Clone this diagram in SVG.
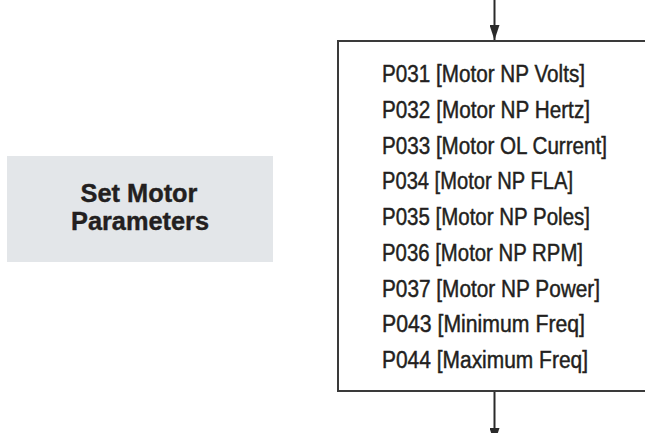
<svg xmlns="http://www.w3.org/2000/svg" width="645" height="433" viewBox="0 0 645 433">
  <style>
    .bg { fill: #ffffff; }
    .step { fill: #e3e6e9; stroke: none; }
    .title { font-family: "Liberation Sans", Arial, sans-serif; font-weight: bold; font-size: 26px; fill: #231f20; text-anchor: middle; stroke: #231f20; stroke-width: 0.4; }
    .box { fill: #ffffff; stroke: #3a3a3a; stroke-width: 2; }
    .param { font-family: "Liberation Sans", Arial, sans-serif; font-size: 23px; fill: #231f20; stroke: #231f20; stroke-width: 0.45; }
    .conn { stroke: #2a2a2a; stroke-width: 2; fill: none; }
  </style>
  <defs>
    <marker id="arrow" viewBox="0 0 15 10" refX="15" refY="5" markerWidth="15" markerHeight="10" markerUnits="userSpaceOnUse" orient="auto">
      <path d="M0,0 L15,5 L0,10 Z" fill="#2a2a2a"/>
    </marker>
  </defs>
  <rect class="bg" x="0" y="0" width="645" height="433"/>

  <g id="step-label">
    <rect class="step" x="7" y="156" width="266" height="106"/>
    <text class="title" x="139" y="201.5" textLength="117" lengthAdjust="spacingAndGlyphs">Set Motor</text>
    <text class="title" x="140" y="230" textLength="138" lengthAdjust="spacingAndGlyphs">Parameters</text>
  </g>

  <g id="param-box">
    <rect class="box" x="338" y="41" width="320" height="350"/>
    <text class="param" x="382" y="82" textLength="203" lengthAdjust="spacingAndGlyphs">P031 [Motor NP Volts]</text>
    <text class="param" x="382" y="117.75" textLength="208" lengthAdjust="spacingAndGlyphs">P032 [Motor NP Hertz]</text>
    <text class="param" x="382" y="153.5" textLength="225" lengthAdjust="spacingAndGlyphs">P033 [Motor OL Current]</text>
    <text class="param" x="382" y="189.25" textLength="191" lengthAdjust="spacingAndGlyphs">P034 [Motor NP FLA]</text>
    <text class="param" x="382" y="225" textLength="208" lengthAdjust="spacingAndGlyphs">P035 [Motor NP Poles]</text>
    <text class="param" x="382" y="260.75" textLength="201" lengthAdjust="spacingAndGlyphs">P036 [Motor NP RPM]</text>
    <text class="param" x="382" y="296.5" textLength="218" lengthAdjust="spacingAndGlyphs">P037 [Motor NP Power]</text>
    <text class="param" x="382" y="332.25" textLength="203" lengthAdjust="spacingAndGlyphs">P043 [Minimum Freq]</text>
    <text class="param" x="382" y="368" textLength="206" lengthAdjust="spacingAndGlyphs">P044 [Maximum Freq]</text>
  </g>

  <g id="connectors">
    <line class="conn" x1="494.5" y1="0" x2="494.5" y2="40" marker-end="url(#arrow)"/>
    <line class="conn" x1="494.5" y1="392" x2="494.5" y2="443" marker-end="url(#arrow)"/>
  </g>
</svg>
